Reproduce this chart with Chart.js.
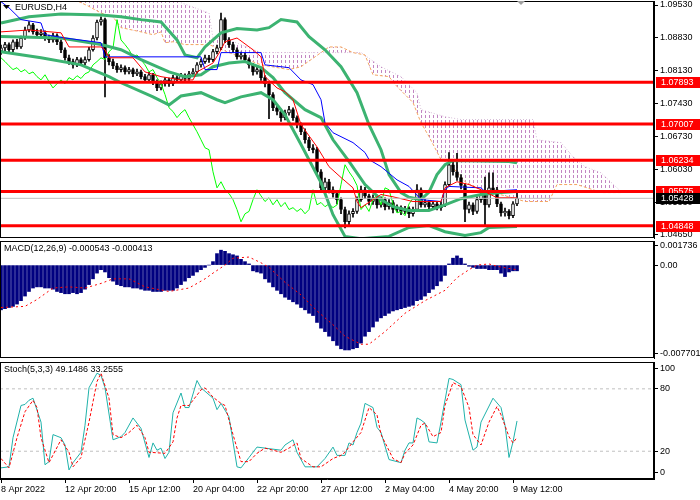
<!DOCTYPE html>
<html>
<head>
<meta charset="utf-8">
<script src="https://cdn.jsdelivr.net/npm/chart.js@4.4.1/dist/chart.umd.min.js"></script>
<style>
  html, body { margin: 0; padding: 0; background: #fff; }
  #wrap { position: relative; width: 700px; height: 500px; overflow: hidden; }
  .pane { position: absolute; left: 0; width: 700px; }
</style>
</head>
<body>
<div id="wrap">
  <div class="pane" style="top:0;height:240px"><canvas id="priceChart"></canvas></div>
  <div class="pane" style="top:240px;height:120px"><canvas id="macdChart"></canvas></div>
  <div class="pane" style="top:360px;height:140px"><canvas id="stochChart"></canvas></div>
</div>
<script>
// EURUSD H4 candles (bar index 0 = 8 Apr 2022)
const opens = [
  1.0855,1.0862,1.0869,1.0858,1.0875,1.0864,1.0883,1.0900,1.0911,1.0896,
  1.0890,1.0894,1.0883,1.0879,1.0888,1.0875,1.0858,1.0841,1.0833,1.0826,
  1.0837,1.0830,1.0837,1.0858,1.0883,1.0917,1.0922,1.0841,1.0833,1.0824,
  1.0816,1.0820,1.0811,1.0816,1.0807,1.0811,1.0801,1.0794,1.0805,1.0790,
  1.0777,1.0786,1.0794,1.0786,1.0799,1.0794,1.0803,1.0797,1.0807,1.0811,
  1.0826,1.0833,1.0841,1.0837,1.0854,1.0862,1.0922,1.0879,1.0869,1.0858,
  1.0843,1.0847,1.0837,1.0826,1.0811,1.0816,1.0799,1.0786,1.0763,1.0735,
  1.0727,1.0714,1.0724,1.0731,1.0714,1.0699,1.0684,1.0667,1.0650,1.0646,
  1.0599,1.0565,1.0578,1.0561,1.0553,1.0540,1.0519,1.0493,1.0510,1.0515,
  1.0540,1.0561,1.0548,1.0536,1.0544,1.0529,1.0540,1.0525,1.0534,1.0519,
  1.0523,1.0515,1.0521,1.0510,1.0519,1.0561,1.0529,1.0534,1.0525,1.0531,
  1.0523,1.0529,1.0572,1.0614,1.0599,1.0587,1.0570,1.0519,1.0529,1.0515,
  1.0540,1.0551,1.0529,1.0565,1.0561,1.0531,1.0512,1.0515,1.0506,1.0531
];
const highs = [
  1.0868,1.0874,1.0873,1.0879,1.0880,1.0887,1.0906,1.0918,1.0914,1.0902,
  1.0901,1.0898,1.0889,1.0893,1.0892,1.0879,1.0862,1.0847,1.0838,1.0842,
  1.0841,1.0843,1.0863,1.0888,1.0921,1.0928,1.0925,1.0848,1.0838,1.0829,
  1.0826,1.0824,1.0821,1.0819,1.0817,1.0815,1.0806,1.0810,1.0808,1.0794,
  1.0792,1.0799,1.0798,1.0804,1.0803,1.0808,1.0807,1.0812,1.0818,1.0831,
  1.0839,1.0847,1.0846,1.0859,1.0868,1.0936,1.0926,1.0884,1.0874,1.0862,
  1.0853,1.0851,1.0841,1.0829,1.0822,1.0820,1.0803,1.0790,1.0767,1.0741,
  1.0732,1.0730,1.0738,1.0735,1.0718,1.0703,1.0690,1.0672,1.0657,1.0651,
  1.0604,1.0586,1.0583,1.0567,1.0558,1.0544,1.0524,1.0516,1.0521,1.0546,
  1.0569,1.0566,1.0552,1.0550,1.0548,1.0546,1.0544,1.0540,1.0538,1.0529,
  1.0527,1.0526,1.0525,1.0524,1.0572,1.0565,1.0540,1.0538,1.0536,1.0535,
  1.0536,1.0578,1.0640,1.0620,1.0638,1.0593,1.0574,1.0535,1.0533,1.0546,
  1.0558,1.0588,1.0597,1.0597,1.0566,1.0535,1.0522,1.0519,1.0536,1.0560
];
const lows = [
  1.0848,1.0856,1.0852,1.0854,1.0860,1.0861,1.0880,1.0896,1.0891,1.0884,
  1.0885,1.0878,1.0873,1.0874,1.0869,1.0852,1.0836,1.0827,1.0819,1.0822,
  1.0825,1.0826,1.0834,1.0855,1.0879,1.0910,1.0758,1.0826,1.0818,1.0810,
  1.0811,1.0806,1.0807,1.0801,1.0803,1.0796,1.0788,1.0790,1.0784,1.0771,
  1.0773,1.0781,1.0780,1.0782,1.0789,1.0790,1.0792,1.0793,1.0803,1.0808,
  1.0821,1.0829,1.0831,1.0833,1.0849,1.0858,1.0873,1.0863,1.0852,1.0838,
  1.0838,1.0831,1.0819,1.0804,1.0806,1.0793,1.0779,1.0712,1.0729,1.0720,
  1.0706,1.0709,1.0719,1.0708,1.0692,1.0678,1.0660,1.0644,1.0639,1.0592,
  1.0557,1.0560,1.0554,1.0545,1.0531,1.0510,1.0480,1.0487,1.0503,1.0511,
  1.0536,1.0542,1.0529,1.0530,1.0522,1.0524,1.0518,1.0520,1.0512,1.0514,
  1.0508,1.0510,1.0502,1.0505,1.0515,1.0524,1.0524,1.0520,1.0520,1.0518,
  1.0517,1.0525,1.0568,1.0592,1.0581,1.0563,1.0493,1.0512,1.0508,1.0511,
  1.0534,1.0483,1.0524,1.0554,1.0525,1.0505,1.0505,1.0499,1.0502,1.0527
];
const closes = [
  1.0862,1.0869,1.0858,1.0875,1.0864,1.0883,1.0900,1.0911,1.0896,1.0890,
  1.0894,1.0883,1.0879,1.0888,1.0875,1.0858,1.0841,1.0833,1.0826,1.0837,
  1.0830,1.0837,1.0858,1.0883,1.0917,1.0922,1.0841,1.0833,1.0824,1.0816,
  1.0820,1.0811,1.0816,1.0807,1.0811,1.0801,1.0794,1.0805,1.0790,1.0777,
  1.0786,1.0794,1.0786,1.0799,1.0794,1.0803,1.0797,1.0807,1.0811,1.0826,
  1.0833,1.0841,1.0837,1.0854,1.0862,1.0922,1.0879,1.0869,1.0858,1.0843,
  1.0847,1.0837,1.0826,1.0811,1.0816,1.0799,1.0786,1.0763,1.0735,1.0727,
  1.0714,1.0724,1.0731,1.0714,1.0699,1.0684,1.0667,1.0650,1.0646,1.0599,
  1.0565,1.0578,1.0561,1.0553,1.0540,1.0519,1.0493,1.0510,1.0515,1.0540,
  1.0561,1.0548,1.0536,1.0544,1.0529,1.0540,1.0525,1.0534,1.0519,1.0523,
  1.0515,1.0521,1.0510,1.0519,1.0561,1.0529,1.0534,1.0525,1.0531,1.0523,
  1.0529,1.0572,1.0614,1.0599,1.0587,1.0570,1.0519,1.0529,1.0515,1.0540,
  1.0551,1.0529,1.0565,1.0561,1.0531,1.0512,1.0515,1.0506,1.0531,1.0543
];

// indicator lines as [bar, value]
const bbUpper = [[0,1.0915],[7,1.0928],[15,1.0934],[25,1.0932],[30,1.0928],[35,1.0922],[40,1.0917],[44,1.0879],[46,1.0847],[49,1.0841],[51,1.0864],[55,1.0894],[59,1.0903],[64,1.0900],[67,1.0905],[70,1.0922],[74,1.0917],[77,1.0886],[81,1.0858],[85,1.0822],[89,1.0767],[92,1.0699],[95,1.0646],[97,1.0593],[100,1.0555],[102,1.0545],[105,1.0540],[107,1.0556],[109,1.0593],[111,1.0614],[113,1.0623],[127,1.0621],[129,1.0618]];
const bbMiddle = [[0,1.0886],[15,1.0883],[25,1.0869],[30,1.0858],[35,1.0837],[42,1.0811],[46,1.0801],[50,1.0805],[53,1.0822],[57,1.0830],[61,1.0833],[65,1.0820],[68,1.0799],[71,1.0767],[76,1.0731],[80,1.0714],[83,1.0667],[87,1.0621],[91,1.0572],[95,1.0540],[98,1.0525],[102,1.0517],[107,1.0517],[111,1.0529],[115,1.0542],[120,1.0551],[125,1.0555],[129,1.0557]];
const bbLower = [[0,1.0854],[10,1.0841],[20,1.0826],[27,1.0801],[30,1.0788],[38,1.0758],[42,1.0741],[45,1.0760],[50,1.0767],[54,1.0752],[56,1.0746],[60,1.0758],[65,1.0767],[68,1.0752],[71,1.0720],[75,1.0657],[80,1.0576],[83,1.0508],[86,1.0462],[90,1.0457],[97,1.0462],[102,1.0481],[107,1.0485],[111,1.0472],[116,1.0464],[120,1.0470],[122,1.0481],[129,1.0483]];
const tenkan = [[0,1.0896],[7,1.0900],[15,1.0894],[17,1.0864],[25,1.0864],[26,1.0858],[27,1.0841],[33,1.0841],[36,1.0811],[40,1.0801],[45,1.0794],[48,1.0794],[49,1.0811],[53,1.0830],[55,1.0858],[56,1.0875],[59,1.0883],[63,1.0858],[65,1.0843],[66,1.0801],[69,1.0777],[71,1.0769],[73,1.0752],[75,1.0699],[79,1.0652],[82,1.0610],[85,1.0587],[88,1.0565],[89,1.0536],[90,1.0523],[93,1.0540],[95,1.0551],[98,1.0546],[103,1.0536],[110,1.0536],[111,1.0565],[114,1.0578],[117,1.0572],[120,1.0561],[124,1.0544],[129,1.0544]];
const kijun = [[0,1.0960],[2,1.0947],[5,1.0922],[10,1.0915],[11,1.0890],[16,1.0883],[25,1.0873],[26,1.0843],[50,1.0843],[51,1.0816],[54,1.0816],[55,1.0852],[65,1.0852],[66,1.0826],[72,1.0820],[75,1.0794],[78,1.0784],[80,1.0752],[81,1.0703],[83,1.0682],[88,1.0661],[91,1.0640],[92,1.0625],[95,1.0610],[99,1.0582],[102,1.0568],[105,1.0540],[110,1.0536],[111,1.0561],[112,1.0568],[120,1.0565],[121,1.0557],[129,1.0561]];
const spanA = [[0,1.0990],[14,1.0982],[18,1.0966],[22,1.0950],[25,1.0936],[28,1.0928],[30,1.0905],[35,1.0896],[38,1.0890],[40,1.0896],[41,1.0873],[43,1.0875],[46,1.0869],[52,1.0869],[57,1.0852],[65,1.0826],[72,1.0816],[75,1.0822],[80,1.0852],[82,1.0864],[85,1.0864],[88,1.0852],[91,1.0847],[93,1.0805],[97,1.0801],[99,1.0780],[103,1.0746],[105,1.0703],[107,1.0674],[110,1.0625],[112,1.0618],[116,1.0578],[120,1.0561],[127,1.0546],[131,1.0536],[137,1.0536],[139,1.0572],[144,1.0572],[148,1.0561],[150,1.0555],[155,1.0555]];
const spanB = [[0,1.0998],[30,1.0992],[42,1.0975],[44,1.0964],[45,1.0958],[52,1.0936],[53,1.0883],[57,1.0879],[65,1.0852],[78,1.0852],[90,1.0852],[95,1.0822],[100,1.0801],[104,1.0767],[105,1.0731],[111,1.0716],[115,1.0710],[133,1.0710],[134,1.0667],[140,1.0661],[143,1.0631],[146,1.0610],[150,1.0597],[154,1.0565],[155,1.0557]];
const chikouShift = 26;

const levelPrices = [1.07893, 1.07007, 1.06234, 1.05575, 1.04848];
const bidPrice = 1.05428;
const priceTicks = [1.0953, 1.0883, 1.0813, 1.0743, 1.0673, 1.0603, 1.0533, 1.0465];

const macdMain = [
  -0.0039,-0.0038,-0.0037,-0.0036,-0.0034,-0.0031,-0.0027,-0.0023,-0.0020,-0.0019,
  -0.0019,-0.0020,-0.0020,-0.0021,-0.0023,-0.0024,-0.0025,-0.0025,-0.0024,-0.0025,
  -0.0024,-0.0021,-0.0017,-0.0012,-0.0007,-0.0004,-0.0006,-0.0011,-0.0014,-0.0017,
  -0.0018,-0.0019,-0.0019,-0.0020,-0.0020,-0.0021,-0.0022,-0.0022,-0.0023,-0.0023,
  -0.0023,-0.0022,-0.0022,-0.0022,-0.0020,-0.0017,-0.0014,-0.0011,-0.0009,-0.0006,
  -0.0004,-0.0002,0.0000,0.0003,0.0010,0.0013,0.0012,0.0010,0.0009,0.0008,
  0.0005,0.0003,0.0001,-0.0005,-0.0006,-0.0007,-0.0012,-0.0015,-0.0019,-0.0022,
  -0.0025,-0.0028,-0.0030,-0.0032,-0.0034,-0.0037,-0.0039,-0.0042,-0.0044,-0.0050,
  -0.0055,-0.0058,-0.0062,-0.0066,-0.0070,-0.0073,-0.0074,-0.0074,-0.0073,-0.0072,
  -0.0068,-0.0062,-0.0058,-0.0054,-0.0049,-0.0046,-0.0044,-0.0042,-0.0040,-0.0039,
  -0.0038,-0.0037,-0.0036,-0.0035,-0.0031,-0.0030,-0.0027,-0.0024,-0.0021,-0.0018,
  -0.0014,-0.0009,0.0001,0.0006,0.0008,0.0006,0.0001,-0.0001,-0.0002,-0.0003,
  -0.0003,-0.0003,-0.0004,-0.0004,-0.0004,-0.0007,-0.0010,-0.0006,-0.0005,-0.0005
];
const macdSignal = [[0,-0.0037],[6,-0.0036],[9,-0.0030],[13,-0.0020],[17,-0.0019],[21,-0.0020],[25,-0.0016],[28,-0.0012],[32,-0.0012],[36,-0.0019],[42,-0.0023],[47,-0.0020],[51,-0.0012],[53,-0.0007],[56,0.0000],[58,0.0006],[62,0.0007],[65,0.0002],[67,-0.0002],[71,-0.0015],[75,-0.0026],[79,-0.0040],[83,-0.0052],[86,-0.0062],[90,-0.0069],[92,-0.0069],[96,-0.0058],[101,-0.0042],[106,-0.0031],[111,-0.0022],[114,-0.0011],[117,-0.0004],[119,0.0000],[122,0.0001],[124,-0.0001],[127,-0.0003],[129,-0.0004]];
const macdTicks = [0.001736, 0, -0.007701];

const stochMain = [[0,4],[2,5],[3,33],[5,64],[6,65],[7,69],[8,71],[10,48],[11,7],[12,10],[13,36],[15,33],[16,26],[17,2],[18,9],[20,19],[21,45],[22,81],[24,95],[25,93],[26,81],[28,31],[30,34],[31,38],[33,52],[35,42],[37,14],[38,28],[39,21],[40,23],[41,13],[42,19],[43,57],[45,76],[46,62],[47,62],[49,88],[50,81],[53,71],[54,60],[55,66],[57,53],[59,5],[60,4],[62,14],[64,24],[66,23],[70,21],[71,26],[73,31],[74,19],[76,5],[79,5],[81,13],[83,24],[84,16],[86,16],[87,28],[88,26],[89,38],[90,47],[91,66],[93,62],[94,43],[95,38],[97,12],[99,10],[100,9],[101,21],[102,28],[103,28],[104,52],[105,50],[106,47],[107,29],[109,28],[110,48],[112,90],[113,89],[115,84],[116,50],[118,21],[119,24],[120,48],[123,71],[125,62],[126,45],[127,14],[128,29],[129,49.1]];
const stochSignal = [[0,13],[2,4],[4,33],[6,58],[8,69],[9,62],[10,33],[12,9],[15,31],[17,19],[18,5],[20,14],[22,48],[24,87],[25,95],[27,71],[28,36],[30,33],[32,38],[34,45],[36,33],[37,19],[41,18],[43,29],[44,52],[45,64],[47,64],[50,79],[51,81],[53,72],[55,66],[56,64],[58,36],[60,10],[62,10],[64,18],[66,23],[70,19],[72,23],[74,28],[75,13],[78,5],[80,5],[83,13],[85,16],[86,19],[88,29],[90,38],[92,62],[94,55],[95,36],[98,13],[100,9],[101,18],[103,26],[105,45],[106,47],[108,34],[110,38],[111,64],[113,86],[115,82],[117,62],[118,36],[120,26],[122,48],[124,63],[125,55],[127,34],[128,28],[129,33.3]];
const stochLevels = [20, 80];
const stochTicks = [100, 80, 20, 0];

const dateTicks = [0, 16, 32, 48, 64, 80, 96, 112, 128];
const dateLabels = ['8 Apr 2022', '12 Apr 20:00', '15 Apr 12:00', '20 Apr 04:00', '22 Apr 20:00', '27 Apr 12:00', '2 May 04:00', '4 May 20:00', '9 May 12:00'];

const xMin = -0.25, xMax = 163.25;
const FONT = '"Liberation Sans", Arial, sans-serif';

Chart.defaults.font.family = FONT;
Chart.defaults.font.size = 9;
Chart.defaults.color = '#000';
Chart.defaults.animation = false;

const pts = list => list.map(([x, y]) => ({ x, y }));
const flat = v => [{ x: xMin, y: v }, { x: xMax, y: v }];

// hatch used by MT4 for the Ichimoku cloud
const hatchCanvas = document.createElement('canvas');
hatchCanvas.width = 4;
hatchCanvas.height = 5;
const hctx = hatchCanvas.getContext('2d');
hctx.fillStyle = '#c285c2';
hctx.fillRect(1, 0, 1, 3);
const hatch = hctx.createPattern(hatchCanvas, 'repeat');

const hiddenX = { type: 'linear', min: xMin, max: xMax, offset: false, display: false };

const rightAxis = (min, max, tickVals, fmt) => ({
  position: 'right',
  min, max,
  afterFit: s => { s.width = 46; s.paddingTop = 0; s.paddingBottom = 0; },
  afterBuildTicks: s => { s.ticks = tickVals.map(v => ({ value: v })); },
  grid: { drawOnChartArea: false, tickLength: 4, color: '#000' },
  border: { color: '#000' },
  ticks: { padding: 2, color: '#000', callback: fmt }
});

const common = {
  responsive: true,
  maintainAspectRatio: false,
  events: [],
  elements: { point: { radius: 0 }, line: { tension: 0, borderWidth: 1 } },
  plugins: { legend: { display: false }, tooltip: { enabled: false } }
};

const paneFrame = {
  id: 'paneFrame',
  afterDraw(chart, args, opts) {
    const { ctx, chartArea: a } = chart;
    ctx.save();
    ctx.strokeStyle = '#000';
    ctx.lineWidth = 1;
    ctx.strokeRect(a.left + 0.5, a.top + 0.5, a.right - a.left - 1, a.bottom - a.top - 1);
    if (opts.caption) {
      ctx.font = '9px ' + FONT;
      ctx.fillStyle = '#000';
      ctx.textBaseline = 'middle';
      ctx.fillText(opts.caption, 4, a.top + 8);
    }
    ctx.restore();
  }
};

const priceMarks = {
  id: 'priceMarks',
  afterDraw(chart) {
    const { ctx, chartArea: a, scales } = chart;
    ctx.save();
    ctx.fillStyle = '#000';
    ctx.beginPath();
    ctx.moveTo(3, 5); ctx.lineTo(10, 5); ctx.lineTo(6.5, 9); ctx.closePath();
    ctx.fill();
    ctx.font = '9px ' + FONT;
    ctx.textBaseline = 'middle';
    ctx.fillText('EURUSD,H4', 15, 8);

    const sx = scales.x.getPixelForValue(130);
    ctx.fillStyle = '#a0a0a0';
    ctx.beginPath();
    ctx.moveTo(sx - 4, a.top); ctx.lineTo(sx + 4, a.top); ctx.lineTo(sx, a.top + 4); ctx.closePath();
    ctx.fill();

    const tag = (p, bg) => {
      const py = Math.round(scales.y.getPixelForValue(p));
      ctx.fillStyle = bg;
      ctx.fillRect(a.right + 2, py - 5, 44, 11);
      ctx.fillStyle = '#fff';
      ctx.fillText(p.toFixed(5), a.right + 7, py + 0.5);
    };
    levelPrices.forEach(p => tag(p, '#ff0000'));
    tag(bidPrice, '#000');
    ctx.restore();
  }
};

// price pane
new Chart(document.getElementById('priceChart'), {
  type: 'line',
  data: {
    datasets: [
      ...levelPrices.map(p => ({ data: flat(p), borderColor: '#ff0000', borderWidth: 3, order: 0 })),
      { data: flat(bidPrice), borderColor: '#c0c0c0', borderWidth: 1, order: 1 },
      { data: pts(tenkan), borderColor: '#ff0000', order: 2 },
      { data: pts(kijun), borderColor: '#0000ff', order: 2 },
      { data: pts(bbUpper), borderColor: '#3cb371', borderWidth: 3, order: 3 },
      { data: pts(bbMiddle), borderColor: '#3cb371', borderWidth: 3, order: 3 },
      { data: pts(bbLower), borderColor: '#3cb371', borderWidth: 3, order: 3 },
      { data: closes.slice(chikouShift).map((c, k) => ({ x: k, y: c })), borderColor: '#00ff00', order: 3 },
      {
        type: 'bar', order: 4, grouped: false, barThickness: 3,
        data: opens.map((o, i) => ({ x: i, y: [o, closes[i]] })),
        backgroundColor: opens.map((o, i) => closes[i] > o ? '#ffffff' : '#000000'),
        borderColor: '#000', borderWidth: 1, borderSkipped: false
      },
      {
        type: 'bar', order: 5, grouped: false, barThickness: 1,
        data: lows.map((l, i) => ({ x: i, y: [l, highs[i]] })),
        backgroundColor: '#000'
      },
      { data: pts(spanA), borderColor: '#f4a460', borderDash: [3, 2], fill: '+1', backgroundColor: hatch, order: 6 },
      { data: pts(spanB), borderColor: '#d8bfd8', borderDash: [1, 2], order: 6 }
    ]
  },
  options: {
    ...common,
    layout: { padding: { top: 1, bottom: 2, left: 0, right: 0 } },
    scales: {
      x: hiddenX,
      y: rightAxis(1.04586, 1.09615, priceTicks, v => v.toFixed(5))
    }
  },
  plugins: [paneFrame, priceMarks]
});

// MACD pane
new Chart(document.getElementById('macdChart'), {
  type: 'line',
  data: {
    datasets: [
      { data: pts(macdSignal), borderColor: '#ff0000', borderDash: [2, 3], order: 0 },
      {
        type: 'bar', order: 1, grouped: false, barThickness: 3,
        data: macdMain.map((v, i) => ({ x: i, y: v })),
        backgroundColor: '#000080'
      }
    ]
  },
  options: {
    ...common,
    plugins: { ...common.plugins, paneFrame: { caption: 'MACD(12,26,9) -0.000543 -0.000413' } },
    layout: { padding: { top: 1, bottom: 2, left: 0, right: 0 } },
    scales: {
      x: hiddenX,
      y: rightAxis(-0.0081, 0.0021, macdTicks, v => v === 0 ? '0.00' : v.toFixed(6))
    }
  },
  plugins: [paneFrame]
});

// Stochastic pane
new Chart(document.getElementById('stochChart'), {
  type: 'line',
  data: {
    datasets: [
      { data: pts(stochSignal), borderColor: '#ff0000', borderDash: [3, 2], order: 0 },
      { data: pts(stochMain), borderColor: '#20b2aa', order: 1 },
      ...stochLevels.map(v => ({ data: flat(v), borderColor: '#c0c0c0', borderDash: [3, 3], order: 2 }))
    ]
  },
  options: {
    ...common,
    plugins: { ...common.plugins, paneFrame: { caption: 'Stoch(5,3,3) 49.1486 33.2555' } },
    layout: { padding: { top: 2, bottom: 1, left: 0, right: 0 } },
    scales: {
      x: {
        type: 'linear', min: xMin, max: xMax, offset: false,
        afterBuildTicks: s => { s.ticks = dateTicks.map(v => ({ value: v })); },
        afterFit: s => { s.height = 20; s.paddingLeft = 0; s.paddingRight = 0; },
        grid: { drawOnChartArea: false, tickLength: 4, color: '#000' },
        border: { color: '#000' },
        ticks: { autoSkip: false, maxRotation: 0, align: 'start', padding: 1, color: '#000', callback: (v, i) => dateLabels[i] }
      },
      y: rightAxis(-6.7, 105.8, stochTicks, v => String(v))
    }
  },
  plugins: [paneFrame]
});
</script>
</body>
</html>
